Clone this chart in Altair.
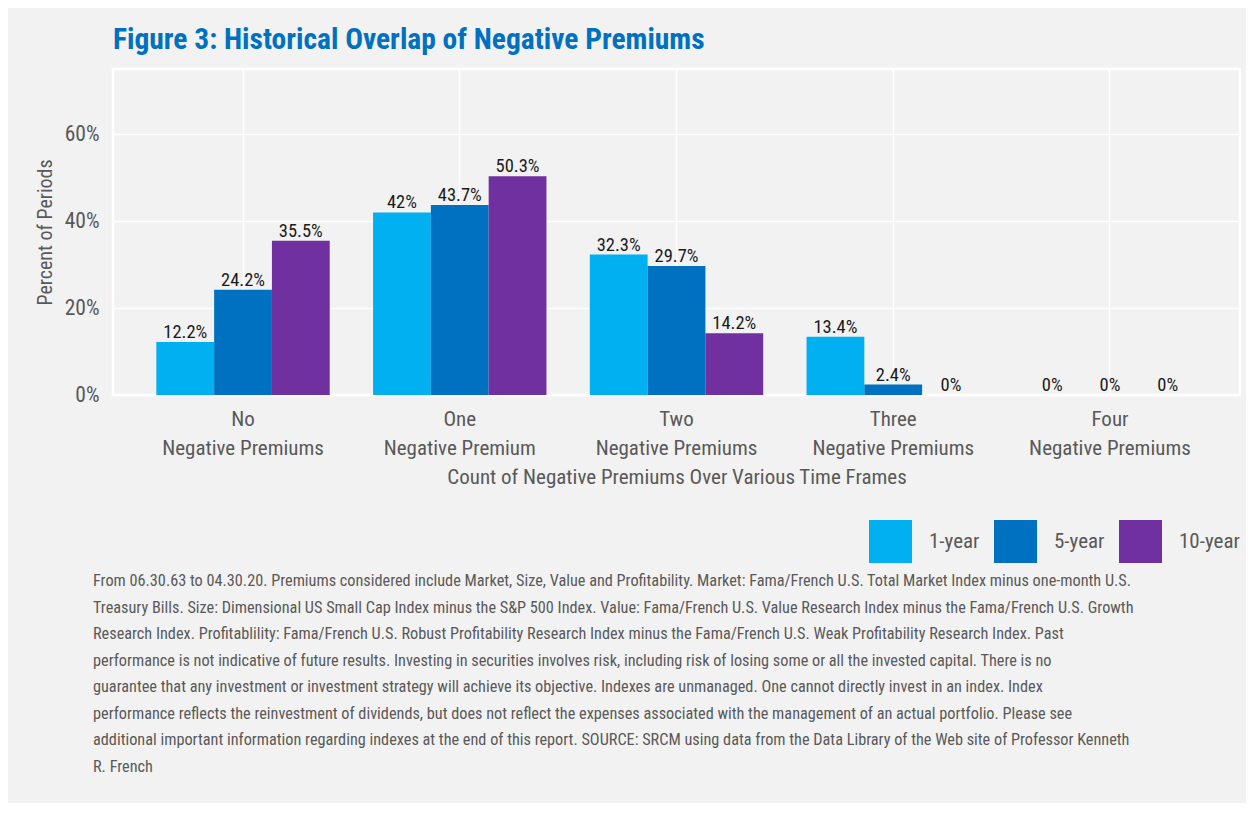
import altair as alt
import pandas as pd

FONT = "Roboto Condensed, Noto Sans Condensed, DejaVu Sans Condensed, Liberation Sans Narrow, Roboto, sans-serif"
GREY = "#595959"

# ---- data ----
cat_top = ["No", "One", "Two", "Three", "Four"]
cat_bottom = ["Negative Premiums", "Negative Premium", "Negative Premiums",
              "Negative Premiums", "Negative Premiums"]
series = ["1-year", "5-year", "10-year"]
series_colors = ["#00b0f0", "#0070c0", "#7030a0"]
one_year = [12.2, 42.0, 32.3, 13.4, 0.0]
five_year = [24.2, 43.7, 29.7, 2.4, 0.0]
ten_year = [35.5, 50.3, 14.2, 0.0, 0.0]
y_ticks = [0, 20, 40, 60]

footnote_lines = [
    "From 06.30.63 to 04.30.20. Premiums considered include Market, Size, Value and Profitability. Market: Fama/French U.S. Total Market Index minus one-month U.S.",
    "Treasury Bills. Size: Dimensional US Small Cap Index minus the S&P 500 Index. Value: Fama/French U.S. Value Research Index minus the Fama/French U.S. Growth",
    "Research Index. Profitablility: Fama/French U.S. Robust Profitability Research Index minus the Fama/French U.S. Weak Profitability Research Index. Past",
    "performance is not indicative of future results. Investing in securities involves risk, including risk of losing some or all the invested capital. There is no",
    "guarantee that any investment or investment strategy will achieve its objective. Indexes are unmanaged. One cannot directly invest in an index. Index",
    "performance reflects the reinvestment of dividends, but does not reflect the expenses associated with the management of an actual portfolio. Please see",
    "additional important information regarding indexes at the end of this report. SOURCE: SRCM using data from the Data Library of the Web site of Professor Kenneth",
    "R. French",
]

categories = [f"{t}|{b}" for t, b in zip(cat_top, cat_bottom)]
rows = []
for name, vals in zip(series, [one_year, five_year, ten_year]):
    for c, v in zip(categories, vals):
        rows.append({"category": c, "series": name, "value": v})
df = pd.DataFrame(rows)

base = alt.Chart(df).transform_calculate(
    label="format(datum.value, '.1~f') + '%'"
).encode(
    x=alt.X(
        "category:N", sort=categories,
        scale=alt.Scale(paddingInner=0.2, paddingOuter=0.2),
        axis=alt.Axis(
            title="Count of Negative Premiums Over Various Time Frames",
            labelExpr="split(datum.label, '|')",
            labelAngle=0, labelFontSize=21, labelColor=GREY, labelFont=FONT,
            labelLineHeight=29, labelPadding=13, labelBaseline="top", labelLimit=400,
            ticks=False, tickSize=0, domain=False, bandPosition=0.5,
            grid=True, gridColor="white", gridWidth=1.5,
            titleFontSize=21, titleColor=GREY, titleFont=FONT, titleFontWeight="normal",
            titleBaseline="alphabetic", titleY=88,
        ),
    ),
    xOffset=alt.XOffset("series:N", sort=series,
                        scale=alt.Scale(paddingInner=0, paddingOuter=0)),
    y=alt.Y(
        "value:Q",
        scale=alt.Scale(domain=[0, 75], nice=False),
        axis=alt.Axis(
            title="Percent of Periods", values=y_ticks,
            labelExpr="datum.value + '%'",
            labelFontSize=21.5, labelColor=GREY, labelFont=FONT, labelPadding=14,
            ticks=False, tickSize=0, domain=False,
            grid=True, gridColor="white", gridWidth=1.5,
            titleFontSize=20, titleColor=GREY, titleFont=FONT, titleFontWeight="normal",
            titleAngle=-90, titleAlign="center", titleBaseline="alphabetic",
            titleX=-62, titleY=163,
        ),
    ),
)

bars = base.mark_bar().encode(
    color=alt.Color(
        "series:N", sort=series,
        scale=alt.Scale(domain=series, range=series_colors),
        legend=alt.Legend(
            title=None, orient="none", legendX=756, legendY=451,
            direction="horizontal", symbolType="square", symbolSize=1849,
            symbolStrokeWidth=0, labelOffset=17, columnPadding=14,
            labelFontSize=21, labelColor=GREY, labelFont=FONT, padding=0,
        ),
    )
)

labels = base.mark_text(
    baseline="alphabetic", dy=-4, fontSize=18.5, color="#1a1a1a", font=FONT
).encode(text="label:N")

foot = alt.Chart(pd.DataFrame({"k": [0]})).mark_text(
    align="left", baseline="alphabetic", fontSize=16.25, color=GREY, font=FONT,
    lineHeight=26.5,
).encode(
    x=alt.value(-20), y=alt.value(517), text=alt.value(footnote_lines)
)

chart = alt.layer(bars, labels, foot).properties(
    width=1127, height=326,
    title=alt.Title(
        "Figure 3: Historical Overlap of Negative Premiums",
        anchor="start", frame="group", font=FONT, fontSize=29.5, fontWeight="bold",
        color="#0070c0", offset=14,
    ),
    autosize=alt.AutoSizeParams(type="none"),
    padding={"left": 105, "top": 61, "right": 6, "bottom": 408},
    background="#f2f2f2",
).configure_view(stroke="white", strokeWidth=2.5)

chart.save("out.html", embed_options={"renderer": "svg", "actions": False})
